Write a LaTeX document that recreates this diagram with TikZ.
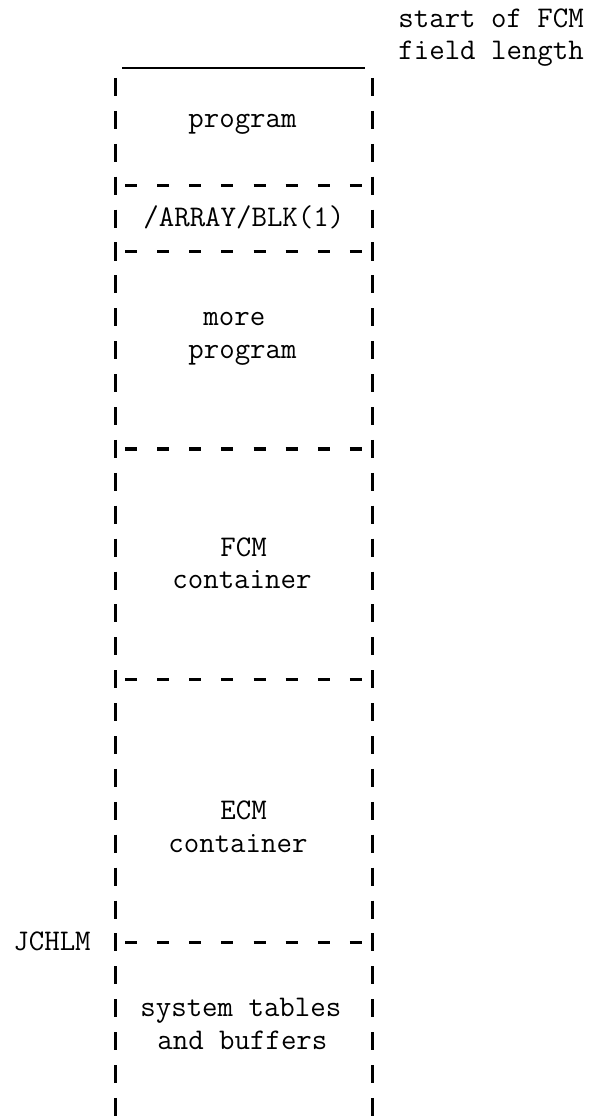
\documentclass[tikz,border=0pt]{standalone}
\usepackage{fontspec}
\begin{document}
\begin{tikzpicture}[x=0.5pt,y=-0.5pt,
  bar/.style={line width=1.5pt},
  dsh/.style={line width=1.7pt},
  topline/.style={line width=1.2pt},
  lbl/.style={anchor=base west,inner sep=0pt,font=\ttfamily\fontsize{15pt}{18pt}\selectfont\addfontfeatures{FakeBold=0.8}}]
\useasboundingbox (0,0) rectangle (592,1118);
% top solid line
\coordinate (tl) at (122,68);
\coordinate (tr) at (365,68);
\draw[topline] (tl) -- (tr);
% side bars, one per typed line
\foreach \i in {0,...,31}{
  \pgfmathsetmacro\yy{87+32.9*\i}
  \draw[bar] (115,\yy-9) -- (115,\yy+9);
  \draw[bar] (372,\yy-9) -- (372,\yy+9);
}
% dashed separators
\foreach \i in {3,5,11,18,26}{
  \pgfmathsetmacro\yy{87+32.9*\i}
  \foreach \k in {0,...,7}{
    \pgfmathsetmacro\xx{115+16.06*(2*\k+1)}
    \draw[dsh] (\xx-6,\yy) -- (\xx+6,\yy);
  }
}
% labels
\node[lbl] (start) at (398,28) {start of FCM};
\node[lbl] (field) at (398,60) {field length};
\node[lbl] (prog1) at (188,128) {program};
\node[lbl] (array) at (143,227) {/ARRAY/BLK(1)};
\node[lbl] (more) at (203,325.5) {more};
\node[lbl] (prog2) at (188,358.5) {program};
\node[lbl] (fcm) at (220,556) {FCM};
\node[lbl] (cont1) at (172,588.5) {container};
\node[lbl] (ecm) at (220,819) {ECM};
\node[lbl] (cont2) at (168,852) {container};
\node[lbl] (jchlm) at (13,950.5) {JCHLM};
\node[lbl] (sys) at (140,1016.5) {system tables};
\node[lbl] (buf) at (157,1049.5) {and buffers};
\end{tikzpicture}
\end{document}
